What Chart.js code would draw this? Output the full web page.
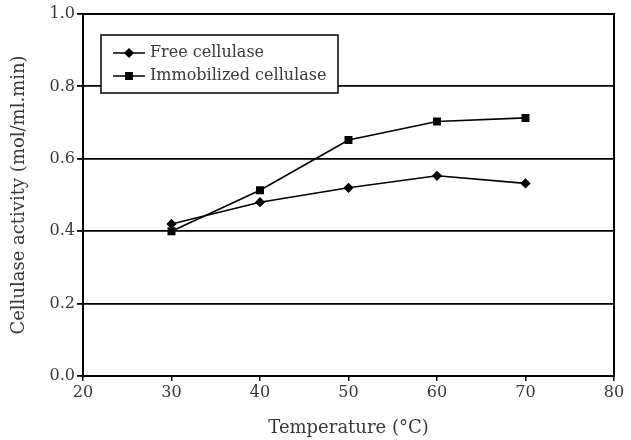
<!DOCTYPE html>
<html>
<head>
<meta charset="utf-8">
<script src="https://cdn.jsdelivr.net/npm/chart.js@4/dist/chart.umd.min.js"></script>
<style>
  html, body { margin: 0; padding: 0; background: #fff; }
  #wrap { width: 631px; height: 440px; }
</style>
</head>
<body>
<div id="wrap"><canvas id="grafica" width="631" height="440"></canvas></div>
<script>
// temperatures (°C)
var temperaturas = [30, 40, 50, 60, 70];
// cellulase activity values
var libre = [0.42, 0.48, 0.52, 0.553, 0.532];
var inmovilizada = [0.40, 0.513, 0.652, 0.703, 0.713];
var nombres = ['Free cellulase', 'Immobilized cellulase'];
var xTicks = [20, 30, 40, 50, 60, 70, 80];
var yTicks = [0.0, 0.2, 0.4, 0.6, 0.8, 1.0];

var fuente = "'DejaVu Serif', 'Liberation Serif', serif";
var gris = '#383838';

function puntos(vals){
    return temperaturas.map(function(t, i){ return {x: t, y: vals[i]}; });
}

// box around the plot + legend drawn inside the plot area
var marcoYLeyenda = {
    id: 'marcoYLeyenda',
    afterDatasetsDraw: function(chart){
        var ctx = chart.ctx, a = chart.chartArea;
        ctx.save();
        ctx.strokeStyle = '#000';
        ctx.lineWidth = 2;
        ctx.strokeRect(a.left, a.top, a.right - a.left, a.bottom - a.top);

        // legend
        var lx = a.left + 18, ly = a.top + 21, lw = 237, lh = 58;
        ctx.fillStyle = '#fff';
        ctx.fillRect(lx, ly, lw, lh);
        ctx.lineWidth = 1.5;
        ctx.strokeRect(lx, ly, lw, lh);
        var estilos = ['rectRot', 'rect'];
        var radios = [4, 4.5];
        for (var i = 0; i < 2; i++) {
            var cy = ly + 18 + i * 23;
            ctx.strokeStyle = '#000';
            ctx.lineWidth = 1.5;
            ctx.beginPath();
            ctx.moveTo(lx + 12, cy);
            ctx.lineTo(lx + 44, cy);
            ctx.stroke();
            ctx.fillStyle = '#000';
            Chart.helpers.drawPoint(ctx, {pointStyle: estilos[i], radius: radios[i], borderWidth: 1}, lx + 28, cy);
            ctx.fillStyle = gris;
            ctx.font = '16px ' + fuente;
            ctx.textBaseline = 'middle';
            ctx.textAlign = 'left';
            ctx.fillText(nombres[i], lx + 49, cy);
        }
        ctx.restore();
    }
};

var ctx = document.getElementById('grafica').getContext('2d');
var chart = new Chart(ctx, {
    type: 'line',
    data: {
        datasets: [{
            label: nombres[0],
            data: puntos(libre),
            borderColor: '#000',
            backgroundColor: '#000',
            borderWidth: 1.6,
            pointStyle: 'rectRot',
            pointRadius: 4,
            tension: 0
        }, {
            label: nombres[1],
            data: puntos(inmovilizada),
            borderColor: '#000',
            backgroundColor: '#000',
            borderWidth: 1.6,
            pointStyle: 'rect',
            pointRadius: 4.5,
            tension: 0
        }]
    },
    options: {
        responsive: false,
        animation: false,
        layout: { padding: { left: 0, right: 17, top: 14, bottom: 0 } },
        plugins: { legend: { display: false }, tooltip: { enabled: false } },
        scales: {
            x: {
                type: 'linear',
                min: 20, max: 80,
                afterBuildTicks: function(s){ s.ticks = xTicks.map(function(v){ return {value: v}; }); },
                afterFit: function(s){ s.height = 64; },
                grid: { drawOnChartArea: false, color: '#000', lineWidth: 1.5, tickLength: 5 },
                border: { color: '#000', width: 2 },
                ticks: { color: gris, font: { family: fuente, size: 16 }, padding: 2, maxRotation: 0 },
                title: { display: true, text: 'Temperature (°C)', color: gris, font: { family: fuente, size: 18 }, padding: { top: 8, bottom: 1 } }
            },
            y: {
                min: 0, max: 1,
                afterBuildTicks: function(s){ s.ticks = yTicks.map(function(v){ return {value: v}; }); },
                afterFit: function(s){ s.width = 83; },
                grid: { color: '#000', lineWidth: 1.8, tickLength: 6 },
                border: { color: '#000', width: 2 },
                ticks: { color: gris, font: { family: fuente, size: 16 }, padding: 2,
                    callback: function(v){ return v.toFixed(1); } },
                title: { display: true, text: 'Cellulase activity (mol/ml.min)', color: gris, font: { family: fuente, size: 18 }, padding: { top: 9, bottom: 4 } }
            }
        }
    },
    plugins: [marcoYLeyenda]
});
</script>
</body>
</html>
